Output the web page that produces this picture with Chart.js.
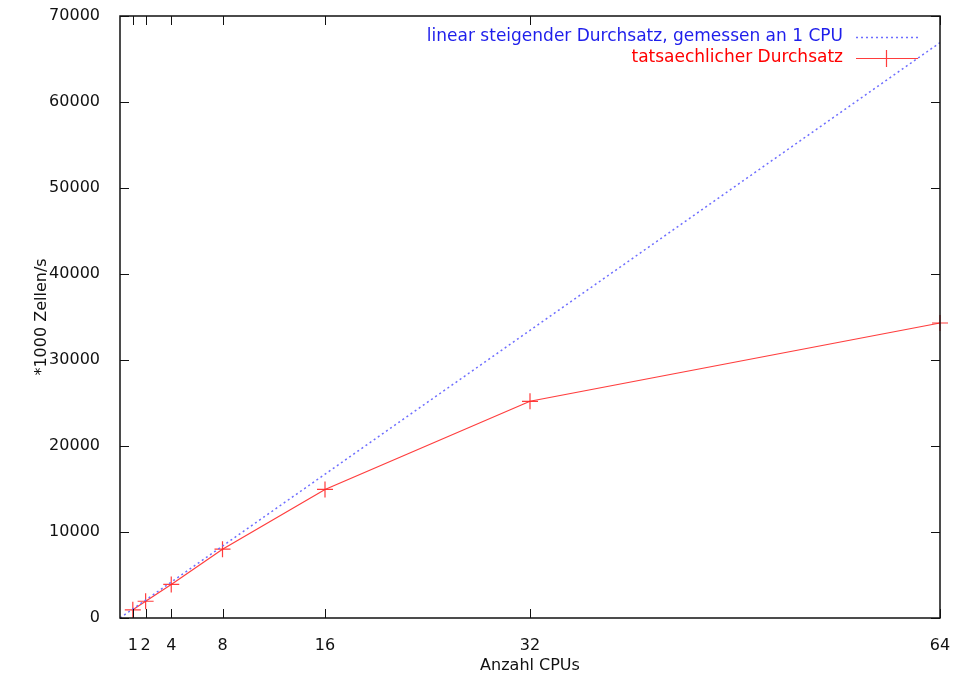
<!DOCTYPE html>
<html>
<head>
<meta charset="utf-8">
<script src="https://cdn.jsdelivr.net/npm/chart.js@4"></script>
<style>
  body { margin: 0; background: #fff; }
  #chart { display: block; }
</style>
</head>
<body>
<canvas id="chart" width="955" height="678"></canvas>
<script>
// values
const cpus = [1, 2, 4, 8, 16, 32, 64];
const measured = [950, 1950, 3900, 8000, 14950, 25200, 34300];
const linearX = [0, 64];
const linearY = [0, 66900];
const xTicks = [1, 2, 4, 8, 16, 32, 64];
const yTicks = [0, 10000, 20000, 30000, 40000, 50000, 60000, 70000];

const labelLinear = 'linear steigender Durchsatz, gemessen an 1 CPU';
const labelMeasured = 'tatsaechlicher Durchsatz';

const FONT = 'DejaVu Sans';
const blueLine = 'rgb(110,110,255)';
const redLine = 'rgba(255,40,40,0.9)';

// frame, inward ticks (gnuplot style) and the legend
const framePlugin = {
    id: 'frame',
    afterDatasetsDraw(chart) {
        const ctx = chart.ctx;
        const a = chart.chartArea;
        const xs = chart.scales.x, ys = chart.scales.y;
        ctx.save();
        ctx.strokeStyle = '#111';
        ctx.lineWidth = 1.5;
        ctx.strokeRect(a.left, a.top, a.right - a.left, a.bottom - a.top);

        ctx.lineWidth = 1;
        ctx.beginPath();
        xTicks.forEach(v => {
            let px = Math.round(xs.getPixelForValue(v)) + 0.5;
            ctx.moveTo(px, a.bottom); ctx.lineTo(px, a.bottom - 9);
            ctx.moveTo(px, a.top); ctx.lineTo(px, a.top + 9);
        });
        yTicks.forEach(v => {
            let py = Math.round(ys.getPixelForValue(v)) + 0.5;
            ctx.moveTo(a.left, py); ctx.lineTo(a.left + 9, py);
            ctx.moveTo(a.right, py); ctx.lineTo(a.right - 9, py);
        });
        ctx.stroke();

        // legend
        ctx.font = '17px "' + FONT + '"';
        ctx.textAlign = 'right';
        ctx.textBaseline = 'middle';
        ctx.fillStyle = 'rgb(30,30,235)';
        ctx.fillText(labelLinear, 843, 37);
        ctx.fillStyle = 'rgb(255,0,0)';
        ctx.fillText(labelMeasured, 843, 58);

        ctx.strokeStyle = blueLine;
        ctx.lineWidth = 1.5;
        ctx.setLineDash([2, 3]);
        ctx.beginPath();
        ctx.moveTo(856, 37.5); ctx.lineTo(918, 37.5);
        ctx.stroke();

        ctx.setLineDash([]);
        ctx.strokeStyle = redLine;
        ctx.lineWidth = 1.2;
        ctx.beginPath();
        ctx.moveTo(856, 58.5); ctx.lineTo(918, 58.5);
        ctx.moveTo(886.5, 50); ctx.lineTo(886.5, 67);
        ctx.stroke();
        ctx.restore();
    }
};

new Chart(document.getElementById('chart'), {
    type: 'line',
    data: {
        datasets: [
            {
                label: labelLinear,
                data: linearX.map((x, i) => ({ x: x, y: linearY[i] })),
                borderColor: blueLine,
                borderWidth: 1.5,
                borderDash: [2, 3],
                pointRadius: 0,
                fill: false
            },
            {
                label: labelMeasured,
                data: cpus.map((x, i) => ({ x: x, y: measured[i] })),
                borderColor: redLine,
                borderWidth: 1.2,
                pointStyle: 'cross',
                pointRadius: 8,
                pointBorderColor: redLine,
                pointBorderWidth: 1.2,
                fill: false,
                clip: false
            }
        ]
    },
    options: {
        responsive: false,
        animation: false,
        layout: { padding: { top: 16, right: 15, left: 0, bottom: 0 } },
        plugins: {
            legend: { display: false },
            tooltip: { enabled: false }
        },
        scales: {
            x: {
                type: 'linear',
                min: 0,
                max: 64,
                afterBuildTicks: (scale) => {
                    scale.ticks = xTicks.map(v => ({ value: v }));
                },
                afterFit: (scale) => {
                    scale.height = 60;
                    scale.paddingLeft = 0;
                    scale.paddingRight = 0;
                },
                grid: { display: false },
                border: { display: false },
                ticks: {
                    autoSkip: false,
                    maxRotation: 0,
                    padding: 10,
                    color: '#111',
                    font: { family: FONT, size: 16 },
                    callback: (v) => String(v)
                },
                title: {
                    display: true,
                    text: 'Anzahl CPUs',
                    color: '#111',
                    font: { family: FONT, size: 16 },
                    padding: { top: 0, bottom: 3 }
                }
            },
            y: {
                min: 0,
                max: 70000,
                afterBuildTicks: (scale) => {
                    scale.ticks = yTicks.map(v => ({ value: v }));
                },
                afterFit: (scale) => {
                    scale.width = 120;
                    scale.paddingTop = 0;
                    scale.paddingBottom = 0;
                },
                grid: { display: false },
                border: { display: false },
                ticks: {
                    padding: 12,
                    color: '#111',
                    font: { family: FONT, size: 16 },
                    callback: (v) => String(v)
                },
                title: {
                    display: true,
                    text: '*1000 Zellen/s',
                    color: '#111',
                    font: { family: FONT, size: 16 },
                    padding: { top: 32, bottom: 0 }
                }
            }
        }
    },
    plugins: [framePlugin]
});
</script>
</body>
</html>
